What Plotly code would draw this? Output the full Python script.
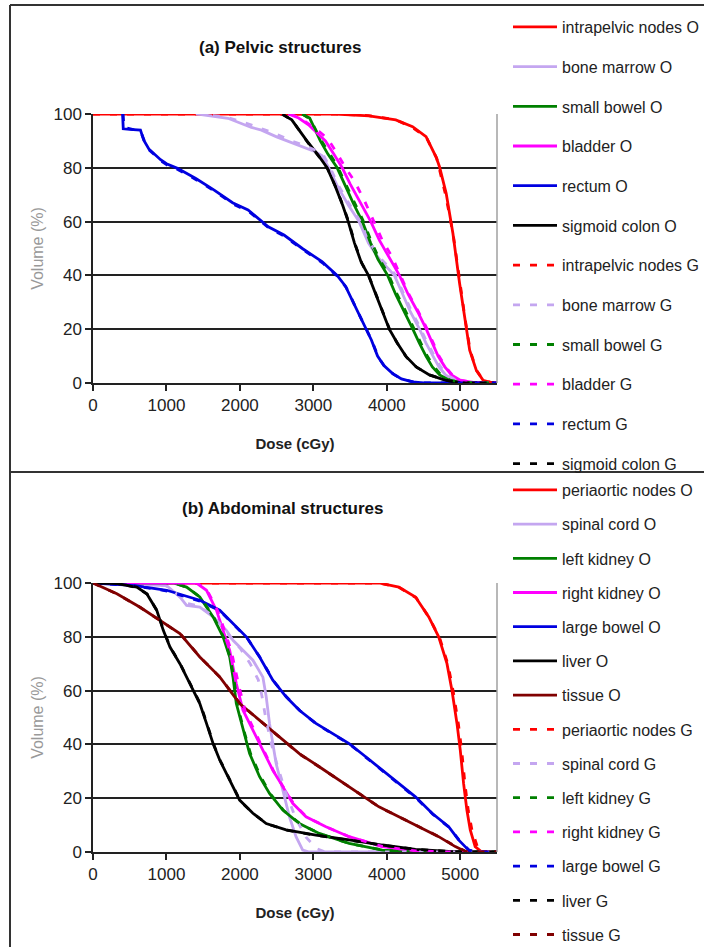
import plotly.graph_objects as go

FONT = "Liberation Sans, Arial, sans-serif"

# ---------------- (a) Pelvic structures ----------------
pel_names = ["intrapelvic nodes", "bone marrow", "small bowel", "bladder", "rectum", "sigmoid colon"]
pel_colors = ["#FF0000", "#C4A6F0", "#008000", "#FF00FF", "#0000E0", "#000000"]

nodes_O_d = [0, 3300, 3757, 4122, 4351, 4534, 4671, 4717, 4808, 4900, 4991, 5060, 5128, 5219, 5311, 5448, 5500]
nodes_O_v = [100, 100, 99.3, 97.8, 95.3, 91.6, 84, 80.4, 70.5, 55.6, 37, 24.6, 12.2, 4.7, 1, 0, 0]
nodes_G_d = [0, 3300, 3750, 4120, 4350, 4540, 4680, 4725, 4800, 4905, 4995, 5065, 5135, 5225, 5315, 5450, 5500]
nodes_G_v = [100, 100, 99.4, 97.9, 95.0, 91.2, 83.5, 78.5, 70, 55, 36.5, 24, 12, 4.5, 1, 0, 0]

marrow_O_d = [1426, 1837, 2157, 2294, 2500, 2700, 2850, 3026, 3120, 3210, 3330, 3480, 3622, 3750, 3900, 4103, 4200, 4320, 4446, 4530, 4629, 4710, 4800, 4920, 5100, 5500]
marrow_O_v = [100, 98.4, 95, 94, 91.5, 89.5, 87.8, 86, 84.5, 80, 73, 66, 60, 52, 46, 40, 34, 26.5, 20, 15, 10, 6, 3, 1, 0.1, 0]
marrow_G_d = [1400, 1800, 2150, 2300, 2500, 2700, 2860, 3030, 3130, 3220, 3340, 3490, 3630, 3760, 3910, 4110, 4210, 4330, 4455, 4540, 4640, 4720, 4810, 4930, 5110, 5500]
marrow_G_v = [100, 99, 96, 94.5, 92.5, 90, 88.5, 86.5, 85, 80.5, 73.5, 66.5, 60.5, 52.5, 46.5, 40.5, 34.5, 27, 20.5, 15.5, 10.5, 6.5, 3.2, 1.2, 0.1, 0]

sbowel_O_d = [2843, 2950, 3095, 3200, 3324, 3420, 3540, 3667, 3780, 3880, 4011, 4120, 4240, 4354, 4440, 4533, 4620, 4720, 4850, 5000, 5500]
sbowel_O_v = [100, 98.5, 90, 85, 80, 74, 67, 60, 52, 46, 40, 33, 26.5, 20, 15, 10, 6, 3, 1, 0.2, 0]
sbowel_G_d = [2850, 2960, 3100, 3210, 3330, 3430, 3550, 3675, 3790, 3890, 4020, 4130, 4250, 4360, 4450, 4540, 4630, 4730, 4860, 5010, 5500]
sbowel_G_v = [100, 98, 90.5, 85.5, 80.5, 74.5, 67.5, 60.5, 52.5, 46.5, 40.5, 33.5, 27, 20.5, 15.5, 10.5, 6.5, 3.2, 1.1, 0.2, 0]

bladder_O_d = [2660, 2800, 2934, 3050, 3164, 3280, 3393, 3500, 3640, 3782, 3900, 4030, 4172, 4290, 4420, 4537, 4620, 4698, 4790, 4880, 5000, 5200, 5500]
bladder_O_v = [100, 98.5, 96, 93, 90, 85, 80, 74, 67, 60, 53, 47, 40, 33, 26.5, 20, 15, 10, 6, 3, 1, 0.1, 0]
bladder_G_d = [2680, 2820, 2950, 3080, 3190, 3310, 3438, 3560, 3700, 3828, 3940, 4070, 4190, 4300, 4430, 4550, 4630, 4710, 4800, 4890, 5010, 5220, 5500]
bladder_G_v = [100, 98.5, 96, 93.5, 91, 86, 80, 75, 67.5, 60, 53, 47, 40, 33, 26.5, 20, 15, 10, 6, 3, 1, 0.1, 0]

rectum_O_d = [403, 412, 500, 646, 691, 760, 920, 1000, 1150, 1400, 1650, 1900, 2111, 2250, 2386, 2600, 2850, 3118, 3250, 3324, 3437, 3528, 3620, 3700, 3790, 3874, 3960, 4080, 4200, 4350, 4500, 5500]
rectum_O_v = [100, 94.5, 94.3, 94, 90.3, 87, 83, 81.5, 79.8, 76, 71.7, 67, 64.3, 61, 58.1, 55, 50, 45.1, 42, 40, 36, 30.8, 26, 21.5, 16, 10, 6.5, 3.5, 1.5, 0.4, 0, 0]
rectum_G_d = [410, 420, 510, 650, 700, 770, 930, 1010, 1160, 1410, 1660, 1910, 2120, 2260, 2395, 2610, 2860, 3128, 3260, 3334, 3447, 3538, 3630, 3710, 3800, 3884, 3970, 4090, 4210, 4360, 4510, 5500]
rectum_G_v = [100, 95, 94.5, 93.5, 90, 86.5, 82.5, 81, 79.3, 75.5, 71.2, 66.5, 63.8, 60.5, 57.6, 54.5, 49.5, 44.6, 41.5, 39.5, 35.5, 30.3, 25.5, 21, 15.5, 9.6, 6.2, 3.3, 1.4, 0.4, 0, 0]

sigmoid_O_d = [2570, 2706, 2912, 3071, 3187, 3300, 3400, 3475, 3560, 3650, 3750, 3850, 3950, 4034, 4140, 4258, 4400, 4580, 4800, 5037, 5500]
sigmoid_O_v = [100, 97.8, 90, 84.5, 80, 73, 66, 60, 52, 45, 40, 33, 26, 20, 15, 10, 6, 3, 1, 0, 0]
sigmoid_G_d = [2580, 2716, 2922, 3081, 3197, 3310, 3410, 3485, 3570, 3660, 3760, 3860, 3960, 4044, 4150, 4268, 4410, 4590, 4810, 5047, 5500]
sigmoid_G_v = [100, 97.5, 89.5, 84, 79.5, 72.5, 65.5, 59.5, 51.5, 44.5, 39.5, 32.5, 25.5, 19.5, 14.5, 9.6, 5.8, 2.9, 1, 0, 0]

pel_O = [(nodes_O_d, nodes_O_v), (marrow_O_d, marrow_O_v), (sbowel_O_d, sbowel_O_v),
         (bladder_O_d, bladder_O_v), (rectum_O_d, rectum_O_v), (sigmoid_O_d, sigmoid_O_v)]
pel_G = [(nodes_G_d, nodes_G_v), (marrow_G_d, marrow_G_v), (sbowel_G_d, sbowel_G_v),
         (bladder_G_d, bladder_G_v), (rectum_G_d, rectum_G_v), (sigmoid_G_d, sigmoid_G_v)]

# ---------------- (b) Abdominal structures ----------------
abd_names = ["periaortic nodes", "spinal cord", "left kidney", "right kidney", "large bowel", "liver", "tissue"]
abd_colors = ["#FF0000", "#C4A6F0", "#008000", "#FF00FF", "#0000E0", "#000000", "#800000"]

pnodes_O_d = [0, 3893, 4164, 4390, 4571, 4706, 4819, 4887, 4955, 5000, 5045, 5090, 5136, 5203, 5293, 5500]
pnodes_O_v = [100, 100, 98.5, 94.8, 87.4, 80, 70, 60, 47.8, 37.9, 25.5, 15.6, 8.2, 2, 0, 0]
pnodes_G_d = [0, 3900, 4170, 4400, 4580, 4720, 4835, 4905, 4975, 5020, 5065, 5110, 5160, 5230, 5320, 5500]
pnodes_G_v = [100, 100, 98.3, 94.5, 87, 79.5, 69.5, 59.5, 47.5, 37.5, 25, 15.2, 8, 2.2, 0, 0]

cord_O_d = [0, 1003, 1183, 1274, 1454, 1635, 1816, 1906, 2042, 2177, 2313, 2358, 2403, 2448, 2493, 2584, 2674, 2764, 2855, 2945, 5500]
cord_O_v = [100, 99, 94.8, 91.7, 91, 87.4, 82.4, 78.7, 75, 71.3, 65, 57.7, 47.8, 40.3, 32.9, 23, 13.1, 5.7, 0.7, 0, 0]
cord_G_d = [0, 980, 1160, 1260, 1440, 1620, 1790, 1880, 2010, 2140, 2250, 2300, 2350, 2420, 2500, 2620, 2760, 2900, 3050, 3160, 5500]
cord_G_v = [100, 99.2, 95.5, 92.5, 91.5, 88, 83, 79.5, 75.5, 70, 64, 58, 50, 41, 33, 22.5, 12.5, 5.5, 1.2, 0, 0]

lkid_O_d = [0, 1093, 1274, 1454, 1635, 1771, 1861, 1906, 1951, 2042, 2132, 2268, 2403, 2584, 2809, 3080, 3487, 3939, 4390, 5500]
lkid_O_v = [100, 100, 98.5, 94.8, 87.4, 80, 72.5, 65, 55.2, 45.3, 36.6, 28, 21.8, 15.6, 10.6, 6.9, 3.2, 0.7, 0, 0]
lkid_G_d = [0, 1110, 1290, 1470, 1650, 1785, 1872, 1918, 1965, 2055, 2146, 2282, 2418, 2600, 2825, 3095, 3500, 3950, 4400, 5500]
lkid_G_v = [100, 100, 98.3, 94.5, 87, 79.5, 72, 64.5, 55, 45, 36.5, 28, 21.5, 15.3, 10.4, 6.7, 3.1, 0.7, 0, 0]

rkid_O_d = [0, 1409, 1545, 1680, 1771, 1861, 1951, 2042, 2177, 2313, 2448, 2584, 2719, 2900, 3171, 3487, 3939, 4390, 4842, 5500]
rkid_O_v = [100, 100, 97.3, 89.9, 82.4, 75, 62.6, 52.7, 45.3, 37.9, 30.4, 24.3, 18.1, 13.1, 9.4, 5.7, 2, 0.4, 0, 0]
rkid_G_d = [0, 1420, 1560, 1700, 1795, 1885, 1980, 2070, 2200, 2330, 2460, 2595, 2730, 2910, 3180, 3495, 3945, 4395, 4850, 5500]
rkid_G_v = [100, 100, 97, 89.5, 82, 74.5, 62.5, 52.5, 45, 37.5, 30, 24, 18, 13, 9.3, 5.6, 2, 0.4, 0, 0]

lbowel_O_d = [0, 551, 1003, 1454, 1725, 1906, 2087, 2268, 2448, 2629, 2809, 3035, 3261, 3487, 3713, 3939, 4164, 4390, 4616, 4842, 4977, 5113, 5203, 5500]
lbowel_O_v = [100, 99.1, 97.3, 93.6, 89.9, 84.9, 80, 72.5, 63.9, 57.7, 52.7, 47.8, 44.1, 40.3, 35.4, 30.4, 25.5, 20.5, 14.4, 9.4, 4.5, 0.7, 0, 0]
lbowel_G_d = [0, 560, 1010, 1465, 1735, 1918, 2100, 2282, 2460, 2640, 2820, 3045, 3272, 3498, 3724, 3950, 4176, 4400, 4628, 4855, 4990, 5125, 5215, 5500]
lbowel_G_v = [100, 99, 97, 93.2, 89.5, 84.5, 79.5, 72, 63.5, 57.5, 52.5, 47.5, 43.8, 40, 35, 30, 25, 20, 14, 9, 4.2, 0.6, 0, 0]

liver_O_d = [0, 325, 596, 732, 867, 957, 1048, 1183, 1319, 1454, 1545, 1635, 1725, 1816, 1906, 1996, 2177, 2358, 2629, 3035, 3487, 3939, 4390, 4842, 5293, 5500]
liver_O_v = [100, 99.8, 98.5, 96, 89.9, 82.4, 76.2, 70, 62.6, 55.2, 47.8, 40.3, 34.2, 29.2, 24.3, 19.3, 14.4, 10.6, 8.2, 6.3, 4.5, 2.6, 1, 0.2, 0, 0]
liver_G_d = [0, 330, 600, 740, 875, 965, 1056, 1190, 1326, 1462, 1552, 1642, 1732, 1823, 1913, 2004, 2185, 2366, 2637, 3043, 3495, 3947, 4398, 4850, 5300, 5500]
liver_G_v = [100, 99.8, 98.3, 95.8, 89.5, 82, 76, 69.8, 62.4, 55, 47.6, 40, 34, 29, 24, 19, 14.2, 10.5, 8.1, 6.2, 4.4, 2.5, 1, 0.2, 0, 0]

tissue_O_d = [0, 325, 641, 912, 1183, 1454, 1725, 1996, 2268, 2538, 2809, 3080, 3351, 3622, 3893, 4164, 4435, 4706, 4932, 5068, 5158, 5500]
tissue_O_v = [100, 96, 91, 86.1, 81.2, 72.5, 65.1, 55.2, 49, 42.8, 36.6, 31.7, 26.7, 21.8, 16.8, 13.1, 9.4, 5.7, 2, 0.2, 0, 0]
tissue_G_d = [0, 335, 650, 922, 1192, 1463, 1735, 2005, 2277, 2547, 2818, 3090, 3360, 3632, 3903, 4174, 4445, 4716, 4942, 5078, 5168, 5500]
tissue_G_v = [100, 95.8, 90.8, 85.8, 81, 72.3, 64.8, 55, 48.8, 42.5, 36.3, 31.5, 26.5, 21.5, 16.6, 13, 9.3, 5.6, 2, 0.2, 0, 0]

abd_O = [(pnodes_O_d, pnodes_O_v), (cord_O_d, cord_O_v), (lkid_O_d, lkid_O_v), (rkid_O_d, rkid_O_v),
         (lbowel_O_d, lbowel_O_v), (liver_O_d, liver_O_v), (tissue_O_d, tissue_O_v)]
abd_G = [(pnodes_G_d, pnodes_G_v), (cord_G_d, cord_G_v), (lkid_G_d, lkid_G_v), (rkid_G_d, rkid_G_v),
         (lbowel_G_d, lbowel_G_v), (liver_G_d, liver_G_v), (tissue_G_d, tissue_G_v)]

x_ticks = [0, 1000, 2000, 3000, 4000, 5000]
y_ticks = [0, 20, 40, 60, 80, 100]

fig = go.Figure()

def add_panel(names, colors, O, G, xa, ya, leg):
    for i, (n, c) in enumerate(zip(names, colors)):
        fig.add_trace(go.Scatter(x=O[i][0], y=O[i][1], mode="lines", name=n + " O",
                                 line=dict(color=c, width=2.8), xaxis=xa, yaxis=ya,
                                 legend=leg, legendgroup=leg + n + "O"))
    for i, (n, c) in enumerate(zip(names, colors)):
        fig.add_trace(go.Scatter(x=G[i][0], y=G[i][1], mode="lines", name=n + " G",
                                 line=dict(color=c, width=2.8, dash="7px,10px"), xaxis=xa, yaxis=ya,
                                 legend=leg, legendgroup=leg + n + "G"))

add_panel(pel_names, pel_colors, pel_O, pel_G, "x", "y", "legend")
add_panel(abd_names, abd_colors, abd_O, abd_G, "x2", "y2", "legend2")

W, H = 704, 947
def py(p):
    return 1 - p / H

xdom = [93 / W, 497 / W]
axis_common = dict(range=[0, 5500], tickvals=x_ticks, ticks="outside", ticklen=6, tickwidth=1.5,
                   tickcolor="#222", showline=True, linecolor="#222", linewidth=1.5, showgrid=False,
                   zeroline=False, tickfont=dict(family=FONT, size=17, color="#222"),
                   title=dict(text="<b>Dose (cGy)</b>", font=dict(family=FONT, size=15, color="#222"), standoff=24))
yaxis_common = dict(range=[0, 100], tickvals=y_ticks, ticks="outside", ticklen=6, tickwidth=1.5,
                    tickcolor="#222", showline=True, linecolor="#222", linewidth=1.5, showgrid=True,
                    gridcolor="#222", gridwidth=1.5, zeroline=False,
                    tickfont=dict(family=FONT, size=17, color="#222"),
                    title=dict(text="Volume (%)", font=dict(family=FONT, size=16, color="#999"), standoff=6))

legend_common = dict(font=dict(family=FONT, size=16, color="#222"), bgcolor="rgba(0,0,0,0)",
                     xanchor="left", yanchor="top", itemwidth=44, traceorder="grouped")

fig.update_layout(
    width=W, height=H, margin=dict(l=0, r=0, t=0, b=0, autoexpand=False),
    paper_bgcolor="white", plot_bgcolor="white",
    xaxis=dict(domain=xdom, anchor="y", **axis_common),
    yaxis=dict(domain=[py(383), py(114)], anchor="x", **yaxis_common),
    xaxis2=dict(domain=xdom, anchor="y2", **axis_common),
    yaxis2=dict(domain=[py(852), py(583)], anchor="x2", **yaxis_common),
    legend=dict(x=508 / W, y=py(10), tracegroupgap=15.9, **legend_common),
    legend2=dict(x=508 / W, y=py(473), tracegroupgap=10.4, **legend_common),
    annotations=[
        dict(text="<b>(a) Pelvic structures</b>", x=280 / W, y=py(47), xref="paper", yref="paper",
             yanchor="middle", showarrow=False, font=dict(family=FONT, size=17, color="#111")),
        dict(text="<b>(b) Abdominal structures</b>", x=283 / W, y=py(508), xref="paper", yref="paper",
             yanchor="middle", showarrow=False, font=dict(family=FONT, size=17, color="#111")),
    ],
    shapes=[
        dict(type="line", xref="paper", yref="paper", x0=10 / W, x1=1, y0=py(5), y1=py(5),
             line=dict(color="#333", width=2)),
        dict(type="line", xref="paper", yref="paper", x0=10 / W, x1=10 / W, y0=py(5), y1=0,
             line=dict(color="#333", width=2)),
        dict(type="line", xref="paper", yref="paper", x0=10 / W, x1=1, y0=py(472), y1=py(472),
             line=dict(color="#333", width=2)),
        dict(type="line", xref="x domain", yref="y domain", x0=1, x1=1, y0=0, y1=1,
             line=dict(color="#A0A0A0", width=1.5)),
        dict(type="line", xref="x2 domain", yref="y2 domain", x0=1, x1=1, y0=0, y1=1,
             line=dict(color="#A0A0A0", width=1.5)),
    ],
)

fig.write_html("out.html", config={"displayModeBar": False},
               post_script="document.body.style.margin='0';document.body.style.overflow='hidden';")
